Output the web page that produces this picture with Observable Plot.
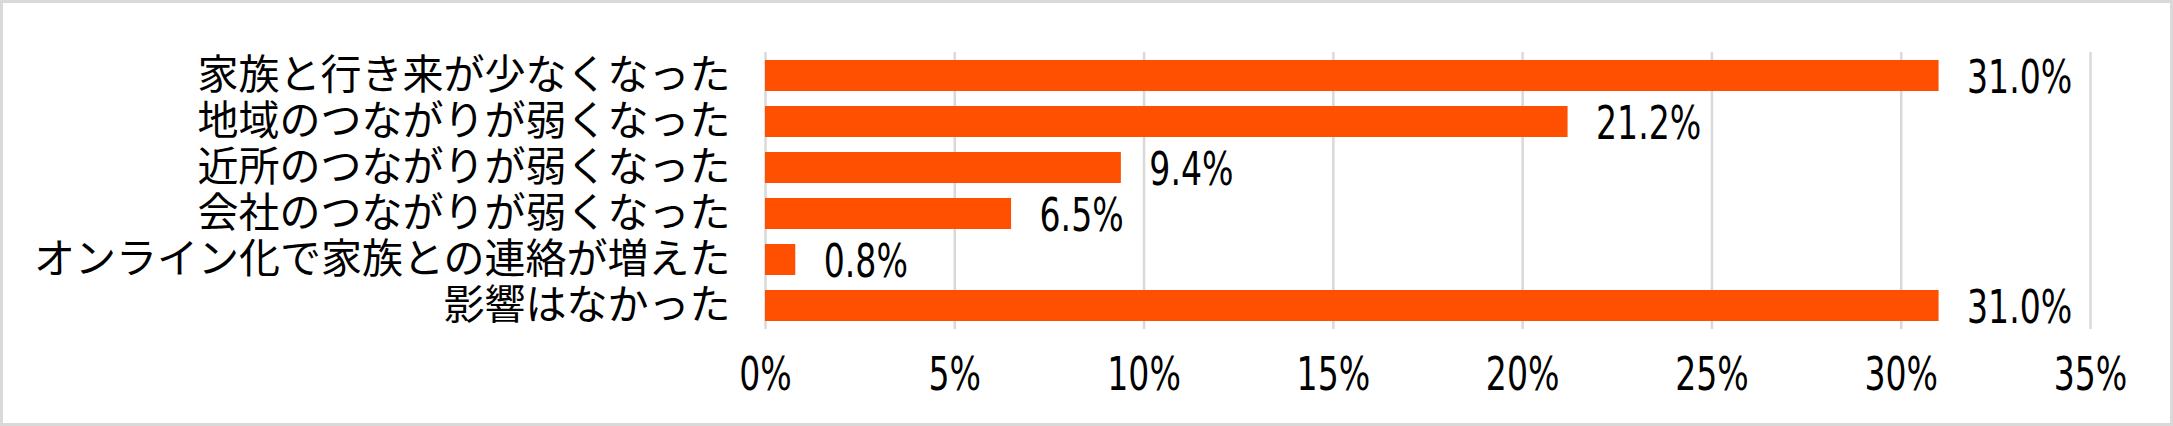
<!DOCTYPE html>
<html><head><meta charset="utf-8">
<script src="https://cdn.jsdelivr.net/npm/d3@7"></script>
<script src="https://cdn.jsdelivr.net/npm/@observablehq/plot@0.6"></script>
<style>
body{margin:0;background:#fff}
#wrap{position:relative;width:2173px;height:426px;background:#fff}
#border{position:absolute;left:0;top:0;right:0;bottom:0;border:3px solid #d9d9d9;box-sizing:border-box;pointer-events:none}
svg{display:block}
</style></head><body><div id="wrap"><div id="border"></div></div>
<script>
const categories = [
  "家族と行き来が少なくなった",
  "地域のつながりが弱くなった",
  "近所のつながりが弱くなった",
  "会社のつながりが弱くなった",
  "オンライン化で家族との連絡が増えた",
  "影響はなかった"
];
const values = [31.0, 21.2, 9.4, 6.5, 0.8, 31.0];
const xTicks = [0, 5, 10, 15, 20, 25, 30, 35];
const xTickLabels = ["0%", "5%", "10%", "15%", "20%", "25%", "30%", "35%"];

const data = categories.map((c, i) => ({category: c, value: values[i]}));
const numFont = "'Liberation Sans Narrow', 'DejaVu Sans Condensed', 'Liberation Sans', sans-serif";

const chart = Plot.plot({
  width: 2173,
  height: 426,
  marginLeft: 765,
  marginRight: 83,
  marginTop: 52,
  marginBottom: 97,
  style: {background: "transparent", color: "#000"},
  x: {domain: [0, 35], axis: null, label: null},
  y: {domain: categories, paddingInner: 0.326, paddingOuter: 0.163, axis: null, label: null},
  marks: [
    Plot.ruleX(xTicks, {stroke: "#d9d9d9", strokeWidth: 2.5}),
    Plot.barX(data, {x: "value", y: "category", fill: "#ff4f00"}),
    Plot.text(data, {
      x: "value", y: "category",
      text: d => d.value.toFixed(1) + "%",
      textAnchor: "start", dx: 28, dy: 2,
      fontSize: 46, fontFamily: numFont, fill: "#000"
    }),
    Plot.axisY({
      label: null,
      tickSize: 0, tickPadding: 35,
      fontSize: 41, fontFamily: "'Noto Sans CJK JP', sans-serif",
      fill: "#000"
    }),
    Plot.axisX({
      label: null,
      ticks: xTicks,
      tickFormat: (d) => xTickLabels[xTicks.indexOf(d)],
      tickSize: 0, tickPadding: 28,
      fontSize: 46, fontFamily: numFont, fill: "#000"
    })
  ]
});

// condense numeric text horizontally (style only; positions come from Plot)
function condense(sel, sx) {
  chart.querySelectorAll(sel).forEach(t => {
    const x = +(t.getAttribute("x") || 0);
    const tr = t.getAttribute("transform") || "";
    t.setAttribute("transform", `${tr} translate(${x},0) scale(${sx},1) translate(${-x},0)`);
  });
}
condense('g[aria-label="x-axis tick label"] text', 0.8);
condense('g[aria-label="text"] text', 0.8);

const wrap = document.getElementById("wrap");
wrap.insertBefore(chart, document.getElementById("border"));
</script>
</body></html>
